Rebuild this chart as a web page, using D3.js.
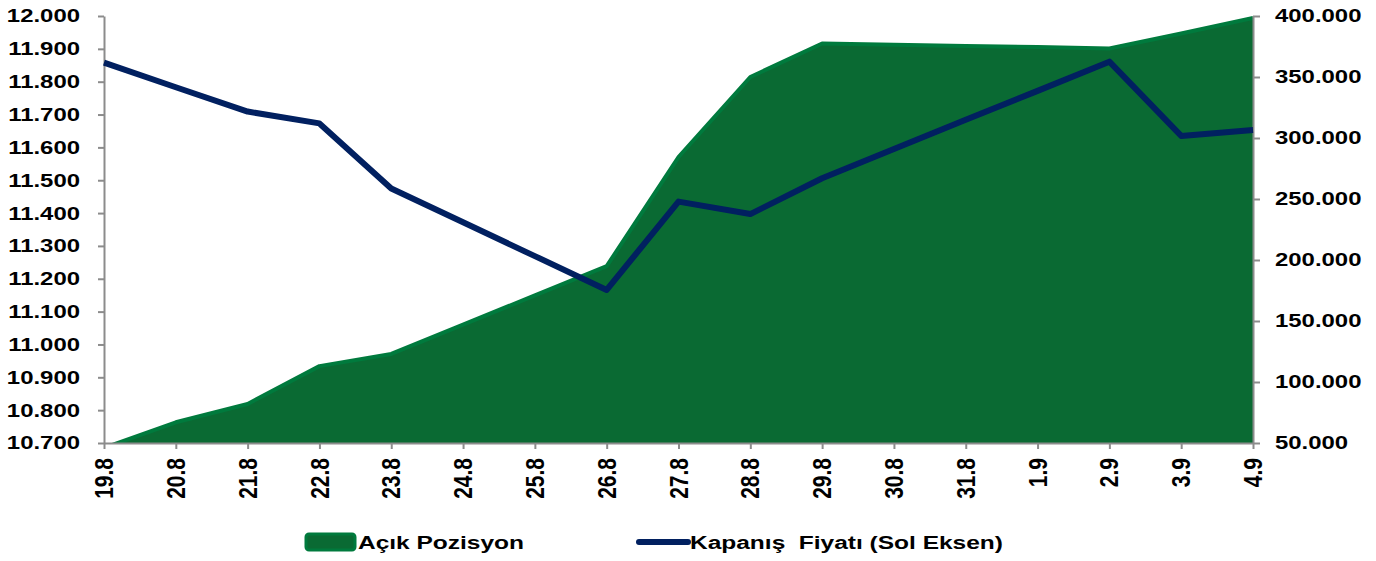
<!DOCTYPE html>
<html><head><meta charset="utf-8">
<script src="https://cdn.jsdelivr.net/npm/d3@7"></script>
<style>
html,body{margin:0;padding:0;background:#fff;}
svg{display:block;font-family:"Liberation Sans",Arial,sans-serif;font-weight:bold;}
text{white-space:pre;}
</style></head>
<body>
<svg id="chart" width="1376" height="561"></svg>
<script>
const categories = ["19.8","20.8","21.8","22.8","23.8","24.8","25.8","26.8","27.8","28.8","29.8","30.8","31.8","1.9","2.9","3.9","4.9"];
const acikPozisyon = [46000,67000,82000,113000,123000,147000,171000,195000,284400,350000,377500,376500,375500,374500,373400,385700,398500];
const kapanisFiyati = [11858,11783,11709,11673,11475,11372,11269,11166,11435,11397,11506,11595,11684,11772,11861,11635,11653];
const leftTicks = [10700,10800,10900,11000,11100,11200,11300,11400,11500,11600,11700,11800,11900,12000];
const rightTicks = [50000,100000,150000,200000,250000,300000,350000,400000];
const legendLabels = ["Açık Pozisyon","Kapanış  Fiyatı (Sol Eksen)"];

const svg = d3.select("#chart");
const L = 104, R = 1253, T = 16, B = 443;
const axisColor = "#8c8c8c";
const green = "#0a6a33", greenEdge = "#007a3d", navy = "#012060";

const locale = d3.formatLocale({decimal:",", thousands:".", grouping:[3], currency:["",""]});
const fmt = locale.format(",d");

const x = d3.scalePoint().domain(categories).range([L, R]).padding(0);
const yL = d3.scaleLinear().domain([10700, 12000]).range([B, T]);
const yR = d3.scaleLinear().domain([50000, 400000]).range([B, T]);

svg.append("defs").append("clipPath").attr("id","plot")
  .append("rect").attr("x", L).attr("y", T - 10).attr("width", R - L).attr("height", B - T + 10);

const g = svg.append("g").attr("clip-path","url(#plot)");
const area = d3.area().x((d,i)=>x(categories[i])).y0(yR(50000)).y1(d=>yR(d));
g.append("path").datum(acikPozisyon).attr("d", area).attr("fill", green);
const topLine = d3.line().x((d,i)=>x(categories[i])).y(d=>yR(d));
g.append("path").datum(acikPozisyon).attr("d", topLine)
  .attr("fill","none").attr("stroke", greenEdge).attr("stroke-width", 4).attr("stroke-linejoin","round");

// axes
function styleAxis(sel){
  sel.select(".domain").attr("stroke", axisColor).attr("stroke-width", 2);
  sel.selectAll(".tick line").attr("stroke", axisColor).attr("stroke-width", 2);
  sel.selectAll(".tick text").remove();
}
const axL = svg.append("g").attr("transform",`translate(${L},0)`)
  .call(d3.axisLeft(yL).tickValues(leftTicks).tickSize(6).tickSizeOuter(0));
styleAxis(axL);
const axR = svg.append("g").attr("transform",`translate(${R},0)`)
  .call(d3.axisRight(yR).tickValues(rightTicks).tickSize(7).tickSizeOuter(0));
styleAxis(axR);
const axB = svg.append("g").attr("transform",`translate(0,${B})`)
  .call(d3.axisBottom(x).tickSize(6).tickSizeOuter(0));
styleAxis(axB);

// line
const line = d3.line().x((d,i)=>x(categories[i])).y(d=>yL(d));
svg.append("path").datum(kapanisFiyati).attr("d", line)
  .attr("fill","none").attr("stroke", navy).attr("stroke-width", 6).attr("stroke-linejoin","round");

// tick labels
const lab = svg.append("g").attr("fill","#000");
leftTicks.forEach(v=>{
  lab.append("text").attr("transform",`translate(80,${yL(v)}) scale(1.33,1)`)
    .attr("text-anchor","end").attr("dy","0.36em").attr("font-size",18).text(fmt(v));
});
rightTicks.forEach(v=>{
  lab.append("text").attr("transform",`translate(1275,${yR(v)}) scale(1.33,1)`)
    .attr("text-anchor","start").attr("dy","0.36em").attr("font-size",18).text(fmt(v));
});
categories.forEach(c=>{
  lab.append("text").attr("transform",`translate(${x(c)},458) scale(1.2,1) rotate(-90)`)
    .attr("text-anchor","end").attr("dy","0.36em").attr("font-size",21).text(c);
});

// legend
const lg = svg.append("g");
lg.append("rect").attr("x",306).attr("y",534).attr("width",49).attr("height",16).attr("rx",3)
  .attr("fill",green).attr("stroke",greenEdge).attr("stroke-width",3);
lg.append("text").attr("transform","translate(358,549) scale(1.29,1)").attr("font-size",19).text(legendLabels[0]);
lg.append("line").attr("x1",639).attr("x2",688).attr("y1",542).attr("y2",542)
  .attr("stroke",navy).attr("stroke-width",6).attr("stroke-linecap","round");
lg.append("text").attr("transform","translate(690,549) scale(1.29,1)").attr("font-size",19).text(legendLabels[1]);
</script>
</body></html>
